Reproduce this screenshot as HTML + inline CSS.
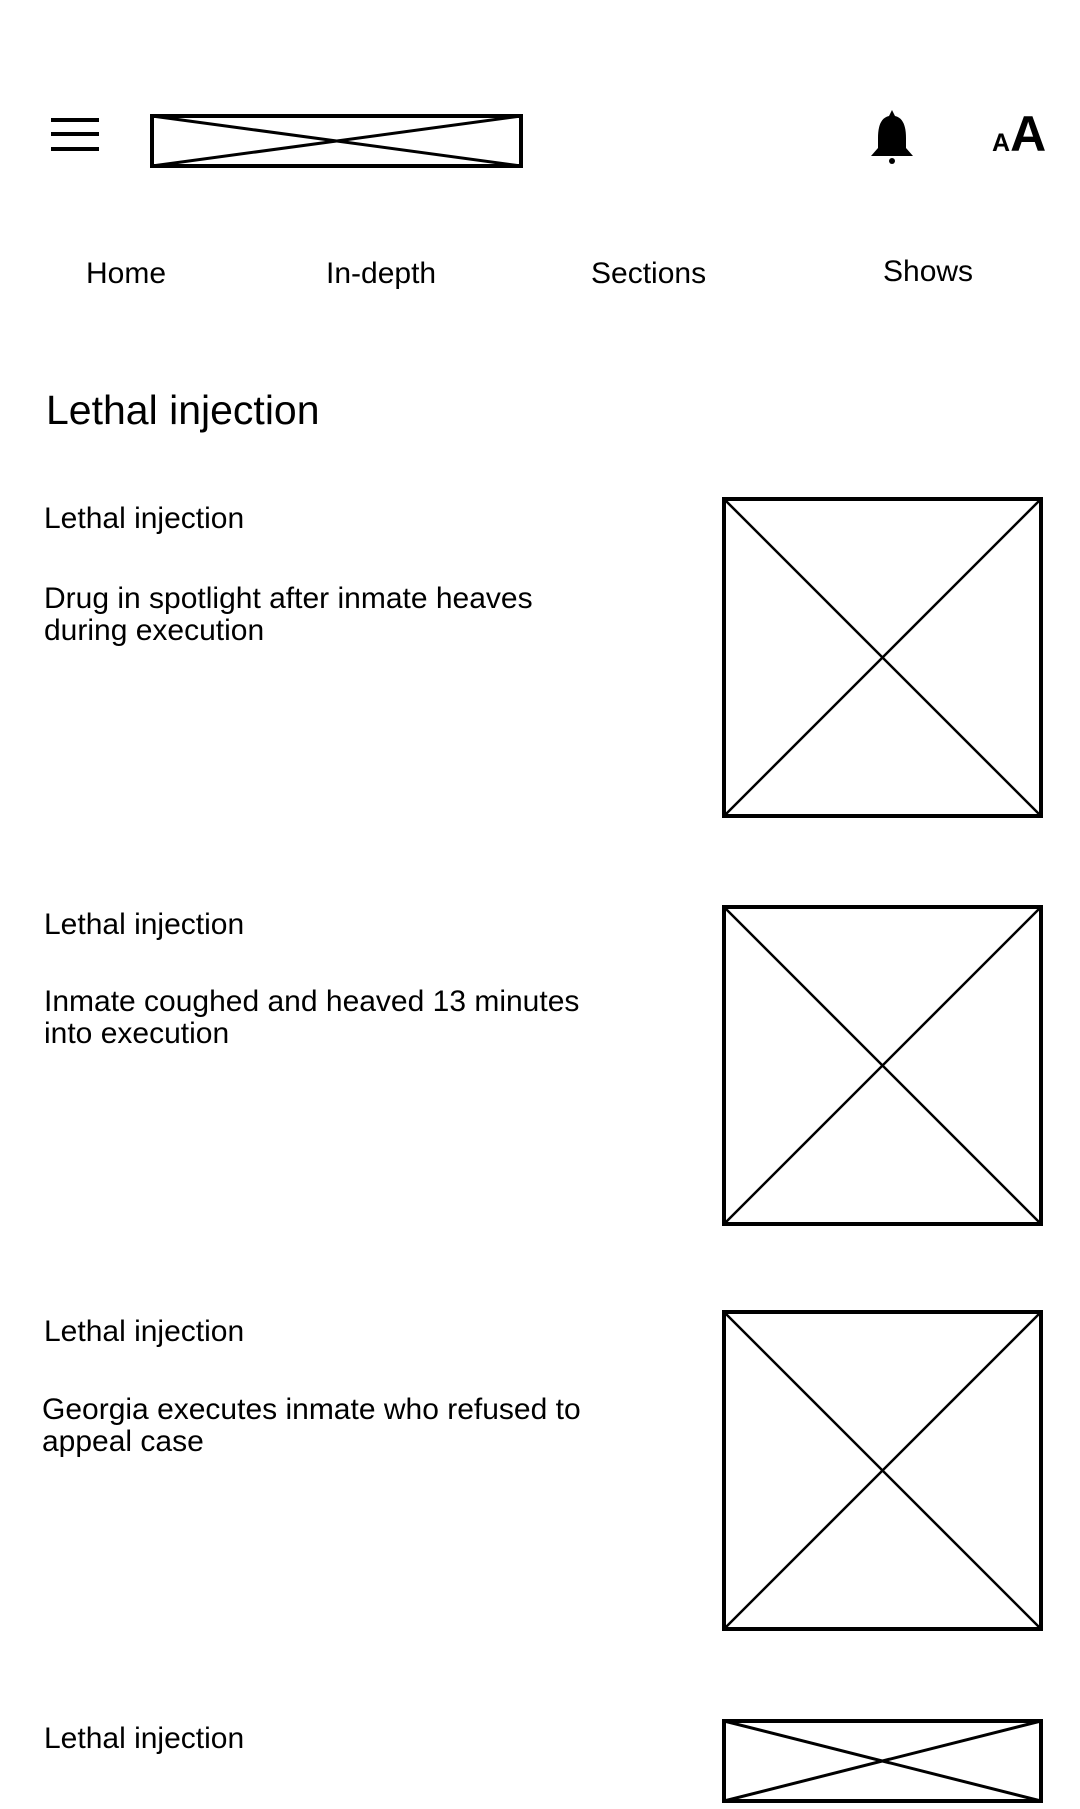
<!DOCTYPE html>
<html><head><meta charset="utf-8"><style>
body{margin:0;width:1080px;height:1800px;background:#fff;position:relative;overflow:hidden;font-family:"Liberation Sans",sans-serif;color:#000}
.a{position:absolute;white-space:nowrap}
.nav{font-size:30px;top:257px}
.k{font-size:30px;left:44px}
.h{font-size:30px;left:44px;line-height:32px}
svg{position:absolute}
</style></head><body>
<svg style="left:51px;top:116px" width="50" height="40"><rect x="0" y="2" width="48" height="4"/><rect x="0" y="16" width="48" height="4"/><rect x="0" y="31" width="48" height="4"/></svg>
<svg style="left:150px;top:114px" width="376" height="56"><rect x="2" y="2" width="369" height="50" fill="none" stroke="#000" stroke-width="4"/><line x1="2" y1="2" x2="371" y2="52" stroke="#000" stroke-width="3"/><line x1="2" y1="52" x2="371" y2="2" stroke="#000" stroke-width="3"/></svg>
<svg style="left:868px;top:108px" width="48" height="58"><path d="M24 2 L27 8 C36 10 38 20 38 30 L38 40 L45 48 L3 48 L10 40 L10 30 C10 20 12 10 21 8 Z"/><circle cx="24" cy="53" r="3"/></svg>
<div class="a" style="left:992px;top:106px;font-weight:bold;font-size:50px;line-height:56px"><span style="font-size:25px">A</span>A</div>
<div class="a nav" style="left:86px">Home</div>
<div class="a nav" style="left:326px">In-depth</div>
<div class="a nav" style="left:591px">Sections</div>
<div class="a nav" style="left:883px;top:255px">Shows</div>
<div class="a" style="left:46px;top:387px;font-size:41px">Lethal injection</div>

<div class="a k" style="top:502px">Lethal injection</div>
<div class="a h" style="top:583px">Drug in spotlight after inmate heaves<br>during execution</div>
<svg style="left:722px;top:497px" width="322" height="322"><rect x="2" y="2" width="317" height="317" fill="none" stroke="#000" stroke-width="4"/><line x1="2" y1="2" x2="319" y2="319" stroke="#000" stroke-width="2.5"/><line x1="2" y1="319" x2="319" y2="2" stroke="#000" stroke-width="2.5"/></svg>

<div class="a k" style="top:908px">Lethal injection</div>
<div class="a h" style="top:986px">Inmate coughed and heaved 13 minutes<br>into execution</div>
<svg style="left:722px;top:905px" width="322" height="322"><rect x="2" y="2" width="317" height="317" fill="none" stroke="#000" stroke-width="4"/><line x1="2" y1="2" x2="319" y2="319" stroke="#000" stroke-width="2.5"/><line x1="2" y1="319" x2="319" y2="2" stroke="#000" stroke-width="2.5"/></svg>

<div class="a k" style="top:1315px">Lethal injection</div>
<div class="a h" style="top:1394px;left:42px">Georgia executes inmate who refused to<br>appeal case</div>
<svg style="left:722px;top:1310px" width="322" height="322"><rect x="2" y="2" width="317" height="317" fill="none" stroke="#000" stroke-width="4"/><line x1="2" y1="2" x2="319" y2="319" stroke="#000" stroke-width="2.5"/><line x1="2" y1="319" x2="319" y2="2" stroke="#000" stroke-width="2.5"/></svg>

<div class="a k" style="top:1722px">Lethal injection</div>
<svg style="left:722px;top:1719px" width="322" height="90"><rect x="2" y="2" width="317" height="80" fill="none" stroke="#000" stroke-width="4"/><line x1="2" y1="2" x2="319" y2="82" stroke="#000" stroke-width="3"/><line x1="2" y1="82" x2="319" y2="2" stroke="#000" stroke-width="3"/></svg>
</body></html>
